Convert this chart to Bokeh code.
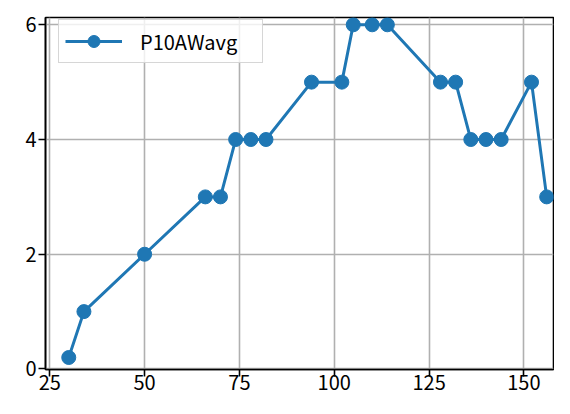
from bokeh.plotting import figure
from bokeh.models import FixedTicker, Range1d
from bokeh.embed import file_html
from bokeh.resources import INLINE

# ---- data ----
x_vals = [30, 34, 50, 66, 70, 74, 78, 82, 94, 102, 105, 110, 114, 128, 132, 136, 140, 144, 152, 156]
y_vals = [0.2, 1, 2, 3, 3, 4, 4, 4, 5, 5, 6, 6, 6, 5, 5, 4, 4, 4, 5, 3]
series_name = "P10AWavg"
x_ticks = [25, 50, 75, 100, 125, 150]
y_ticks = [0, 2, 4, 6]

FONT = "Noto Sans CJK JP"
BLUE = "#1f77b4"

p = figure(width=554, height=398, output_backend="svg", toolbar_location=None,
           x_range=Range1d(23.87, 157.8), y_range=Range1d(-0.009, 6.127),
           min_border_left=45, min_border_right=1, min_border_top=17, min_border_bottom=29)

p.background_fill_color = "white"
p.border_fill_color = "white"
p.outline_line_color = "black"
p.outline_line_width = 1.6
p.outline_line_alpha = 1.0

p.line(x_vals, y_vals, line_color=BLUE, line_width=3, legend_label=series_name)
p.scatter(x_vals, y_vals, size=14, fill_color=BLUE, line_color=BLUE, legend_label=series_name)

for ax in (p.xaxis[0], p.yaxis[0]):
    ax.axis_line_color = "black"
    ax.axis_line_width = 1.6
    ax.major_tick_line_color = "black"
    ax.major_tick_line_width = 1.6
    ax.major_tick_out = 7
    ax.major_tick_in = 0
    ax.minor_tick_line_color = None
    ax.major_label_text_font = FONT
    ax.major_label_text_font_size = "20px"
    ax.major_label_text_color = "black"

p.xaxis[0].ticker = FixedTicker(ticks=x_ticks)
p.yaxis[0].ticker = FixedTicker(ticks=y_ticks)
p.xaxis[0].major_label_standoff = -2
p.yaxis[0].major_label_standoff = 2

p.xgrid[0].ticker = FixedTicker(ticks=x_ticks)
p.ygrid[0].ticker = FixedTicker(ticks=y_ticks)
for g in (p.xgrid[0], p.ygrid[0]):
    g.grid_line_color = "#b0b0b0"
    g.grid_line_width = 1.6

lg = p.legend[0]
lg.location = (13, 306)
lg.margin = 0
lg.padding = 6
lg.spacing = 0
lg.glyph_width = 57
lg.glyph_height = 30
lg.label_standoff = 18
lg.label_width = 116
lg.label_text_font = FONT
lg.label_text_font_size = "20px"
lg.label_text_color = "black"
lg.border_line_color = "#cccccc"
lg.border_line_width = 1.6
lg.border_line_alpha = 0.8
lg.background_fill_color = "white"
lg.background_fill_alpha = 0.8

open("out.html", "w").write(file_html(p, INLINE))
